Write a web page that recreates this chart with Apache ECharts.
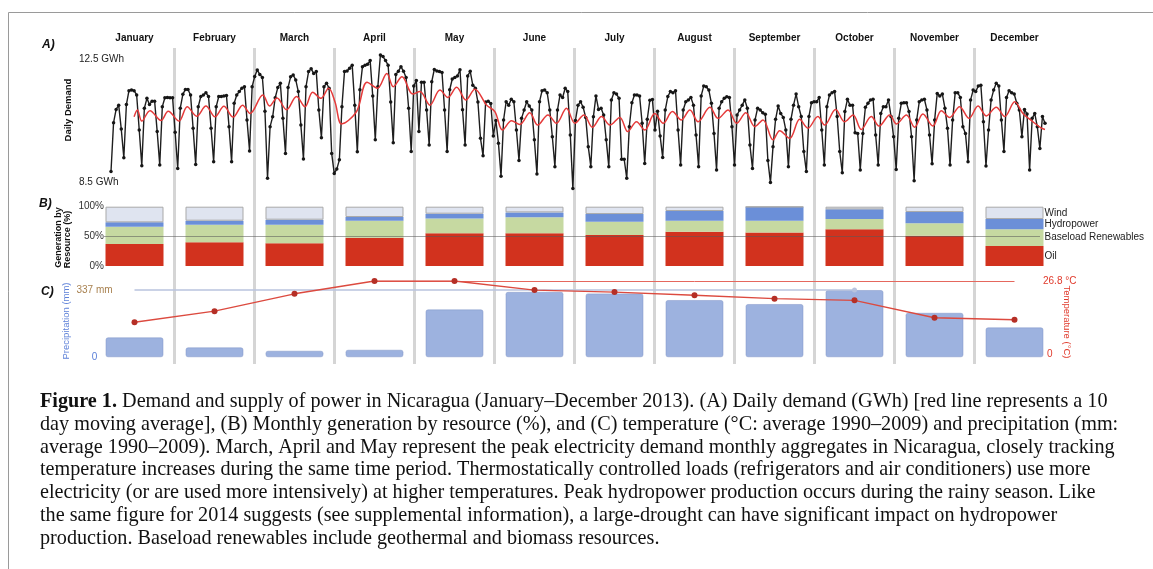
<!DOCTYPE html>
<html><head><meta charset="utf-8">
<script src="https://cdn.jsdelivr.net/npm/echarts@6/dist/echarts.min.js"></script>
<style>html,body{margin:0;padding:0;background:#fff;}#c{width:1153px;height:569px;}</style>
</head><body><div id="c"></div>
<script>
const months = ['January','February','March','April','May','June','July','August','September','October','November','December'];

// Panel A: daily demand (GWh), read per day
const demandJan = [8.84,10.43,10.86,11.0,10.22,9.29,11.02,11.47,11.49,11.47,11.33,10.19,9.03,10.9,11.22,11.02,11.13,11.13,10.14,9.05,10.95,11.24,11.25,11.24,11.24,10.12,8.94,10.9,11.35,11.51,11.51];
const demandFeb = [11.33,10.25,9.07,10.95,11.28,11.33,11.4,11.28,10.25,9.16,10.95,11.28,11.28,11.3,11.31,10.3,9.16,11.06,11.33,11.44,11.55,11.6,10.52,9.51,11.6,11.93,12.14,12.0];
const demandMar = [11.9,10.8,8.62,10.3,10.62,11.24,11.57,11.71,10.57,9.43,11.57,11.92,11.98,11.82,11.44,10.35,9.25,11.6,12.09,12.18,12.03,12.09,10.84,9.94,11.6,11.71,11.55,9.43,8.78,8.92,9.22];
const demandApr = [10.95,12.09,12.11,12.2,12.3,11.0,9.48,11.5,12.25,12.3,12.33,12.45,11.3,9.87,11.6,12.63,12.58,12.45,12.3,11.1,9.78,12.0,12.1,12.25,12.1,11.9,10.9,9.49,11.62,11.8];
const demandMay = [10.14,11.74,11.74,10.84,9.7,11.76,12.16,12.11,12.09,12.06,10.84,9.49,11.5,11.85,11.9,11.95,12.15,10.85,9.7,11.95,12.1,11.65,11.55,11.1,9.92,9.35,11.1,11.13,11.05,10.0,10.5];
const demandJun = [9.76,8.69,10.52,11.11,11.0,11.19,11.11,10.19,9.2,10.57,10.84,11.11,10.97,10.84,9.87,8.76,11.11,11.47,11.49,11.4,10.84,9.97,9.0,10.84,11.33,11.25,11.55,11.44,10.03,8.29];
const demandJul = [10.5,11.0,11.11,10.93,10.6,9.65,9.0,10.62,11.3,10.86,10.9,10.68,9.87,9.0,11.17,11.4,11.36,11.22,9.24,9.24,8.62,10.3,11.08,11.33,11.33,11.3,10.41,9.1,10.54,11.16,11.18];
const demandAug = [10.19,10.8,10.0,9.3,10.84,11.28,11.44,11.4,11.47,10.19,9.05,10.84,11.11,11.17,11.25,11.0,10.03,9.0,11.3,11.62,11.6,11.49,11.06,10.08,8.89,10.9,11.11,11.22,11.27,11.25,10.3];
const demandSep = [9.05,10.68,10.84,11.0,11.17,10.9,9.7,8.94,10.52,10.9,10.84,10.75,10.7,9.2,8.48,9.65,10.54,10.97,10.73,10.6,10.19,9.0,10.54,11.0,11.36,10.95,10.63,9.49,8.84,10.63];
const demandOct = [11.08,11.11,11.11,11.25,10.19,9.05,10.95,11.33,11.4,11.44,10.63,9.49,8.8,10.79,11.19,11.0,11.0,10.1,10.08,8.89,10.08,10.93,11.06,11.17,11.19,10.03,9.05,10.73,10.95,10.95,11.17];
const demandNov = [10.63,9.97,8.91,10.57,11.06,11.08,11.08,10.79,9.97,8.54,10.52,11.11,11.17,11.19,10.84,10.03,9.09,10.52,11.38,11.3,11.36,10.9,10.25,9.05,10.52,11.4,11.4,11.25,10.3,10.08];
const demandDec = [9.16,11.17,11.49,11.44,11.62,11.65,10.46,9.02,10.19,11.17,11.49,11.71,11.62,10.52,9.49,11.25,11.47,11.4,11.36,11.06,10.84,9.97,10.86,10.71,8.89,10.57,10.73,10.3,9.59,10.63,10.41];

// Panel A: 10-day moving average, read at its turning points [day of year, GWh]
const demandMA = [[10,10.62],[11.3,10.84],[13,10.48],[16.2,10.82],[20.5,10.5],[23.3,10.8],[27.5,10.48],[30.7,10.95],[34.4,10.64],[38,10.97],[41.5,10.62],[45,10.96],[48.6,10.61],[52.3,11.0],[55.2,10.73],[60.2,11.33],[62.8,10.97],[65.7,11.23],[69.4,10.85],[73.3,11.28],[76.6,10.95],[79.6,11.42],[82.8,11.22],[85.8,11.55],[88.3,11.1],[90.8,10.39],[93.5,10.5],[97,10.84],[100.8,11.74],[104.8,11.55],[108.5,12.03],[111,11.6],[114.4,11.92],[118.6,11.36],[121.4,11.44],[125.3,11.0],[129.2,11.49],[132.3,11.25],[135.7,11.58],[139.3,11.17],[142.8,11.52],[147.4,11.0],[150.6,10.79],[153.6,10.19],[157.1,10.49],[160.3,10.37],[164.2,10.75],[167.3,10.35],[171.3,10.68],[174.6,10.41],[178.5,10.9],[181.8,10.41],[185.3,10.68],[188.6,10.28],[192.2,10.63],[195.4,10.35],[199.3,10.6],[202.4,10.14],[205.8,10.46],[209,10.19],[212.9,10.73],[216.2,10.41],[219.8,10.79],[223.3,10.52],[226.6,10.84],[229.8,10.46],[234.4,10.93],[237.6,10.57],[241.5,10.84],[244.8,10.41],[248.4,10.75],[251.9,10.3],[255.1,10.52],[259,9.87],[261.6,10.17],[265.5,9.92],[269.4,10.54],[272.6,10.25],[276.5,10.63],[279.1,10.35],[283.4,10.86],[286.9,10.46],[290.2,10.68],[293.4,10.21],[297.3,10.63],[300.3,10.32],[304.5,10.68],[307.1,10.39],[311,10.68],[314.2,10.28],[317.4,10.71],[321.3,10.32],[324.6,10.82],[327.8,10.6],[331.7,10.95],[335.4,10.57],[338.9,10.97],[342.1,10.65],[346,10.93],[349.3,10.63],[353.2,11.11],[356.4,10.73],[360.3,10.46],[363.6,10.25],[365,10.21]];
const demandTicks = [8.5, 12.5];

// Panel B: generation share (%)
const oilPct      = [37.1,39.9,38.2,47.8,55.1,55.1,52.2,57.9,56.7,61.8,51.1,33.7];
const baseloadPct = [29.2,29.8,31.5,28.6,25.2,26.9,22.5,18.5,19.7,17.4,20.8,28.1];
const hydroPct    = [7.3,6.7,8.4,6.2,7.9,8.4,12.9,16.3,23.1,16.3,19.1,17.4];
const windPct     = [26.4,23.6,21.9,17.4,11.8,9.6,12.4,7.3,0.5,4.5,9.0,20.8];

// Panel C
const precipMM = [100,50,33,38,240,328,320,287,267,337,223,150];
const tempC    = [12.3,16.2,22.3,26.8,26.8,23.6,22.9,21.8,20.6,20.0,13.9,13.2];
const precipTicks = [0, 337];
const tempTicks = [0, 26.8];

const daily = [].concat(demandJan,demandFeb,demandMar,demandApr,demandMay,demandJun,demandJul,demandAug,demandSep,demandOct,demandNov,demandDec).map((v,i)=>[i+1,v]);

const SANS = 'Liberation Sans';
const SERIF = 'Liberation Serif';

function lastLabel(arr){
  return arr.map((v,i)=> i===arr.length-1 ? {value:v, label:{show:true}} : v);
}
function genSeries(name, arr, color, extra){
  return Object.assign({
    name, type:'bar', stack:'gen', xAxisIndex:3, yAxisIndex:2,
    barWidth:'72.5%', data: lastLabel(arr),
    itemStyle:{color},
    label:{show:false, position:'right', distance:1, formatter: name, color:'#222', fontSize:10, fontFamily:SANS},
    emphasis:{disabled:true}, silent:true
  }, extra||{});
}

const chart = echarts.init(document.getElementById('c'), null, {renderer:'canvas'});
const caption = [
 '{b|Figure 1.} Demand and supply of power in Nicaragua (January–December 2013). (A) Daily demand (GWh) [red line represents a 10',
 'day moving average], (B) Monthly generation by resource (%), and (C) temperature (°C: average 1990–2009) and precipitation (mm:',
 'average 1990–2009). March, April and May represent the peak electricity demand monthly aggregates in Nicaragua, closely tracking',
 'temperature increases during the same time period. Thermostatically controlled loads (refrigerators and air conditioners) use more',
 'electricity (or are used more intensively) at higher temperatures. Peak hydropower production occurs during the rainy season. Like',
 'the same figure for 2014 suggests (see supplemental information), a large-drought can have significant impact on hydropower',
 'production. Baseload renewables include geothermal and biomass resources.'
];
const CAP_SIZE = 20.2;
const capTexts = caption.map((t,i)=>({
  type:'text', x:40, y:401.7 + i*22.75, silent:true,
  style:{text:t, fill:'#111', fontFamily:SERIF, fontSize:CAP_SIZE, verticalAlign:'middle', align:'left',
    rich:{b:{fontFamily:SERIF, fontSize:CAP_SIZE, fontWeight:'bold', fill:'#111'}}}
}));

const option = {
  animation:false,
  backgroundColor:'#fff',
  textStyle:{fontFamily:SANS},
  grid:[
    {left:111, right:108, top:59, height:123},
    {left:94.5, right:98.5, top:48, bottom:205},
    {left:94.5, right:98.5, top:206.7, height:59.3},
    {left:104, right:113, top:206.7, height:59.3},
    {left:94.5, right:98.5, top:281, bottom:211.7}
  ],
  xAxis:[
    {gridIndex:0, type:'value', min:1, max:365, show:false},
    {gridIndex:1, type:'value', min:0, max:12, interval:1, axisLine:{show:false}, axisTick:{show:false}, axisLabel:{show:false},
      splitLine:{show:true, showMinLine:false, showMaxLine:false, lineStyle:{color:'rgba(195,195,195,0.7)', width:3}}},
    {gridIndex:1, type:'category', data:months, position:'top', axisLine:{show:false}, axisTick:{show:false},
      axisLabel:{margin:5, fontSize:10, fontWeight:'bold', color:'#111', fontFamily:SANS}, splitLine:{show:false}},
    {gridIndex:2, type:'category', data:months, show:false},
    {gridIndex:3, type:'value', min:0, max:1, show:false},
    {gridIndex:4, type:'category', data:months, show:false}
  ],
  yAxis:[
    {gridIndex:0, type:'value', min:8.5, max:12.5, interval:4, axisLine:{show:false}, axisTick:{show:false}, splitLine:{show:false},
      axisLabel:{formatter: v=> v+' GWh', align:'left', margin:32, fontSize:10, color:'#222', fontFamily:SANS}},
    {gridIndex:1, type:'value', show:false},
    {gridIndex:2, type:'value', min:0, max:100, interval:50, offset:-9.5, axisLine:{show:false}, axisTick:{show:false}, splitLine:{show:false},
      axisLabel:{formatter:'{value}%', margin:0, fontSize:10, color:'#333', fontFamily:SANS}},
    {gridIndex:3, type:'value', min:0, max:100, interval:50, z:6, axisLine:{show:false}, axisTick:{show:false}, axisLabel:{show:false},
      splitLine:{show:true, showMinLine:false, showMaxLine:false, lineStyle:{color:'rgba(90,90,90,0.55)', width:1}}},
    {gridIndex:4, type:'value', min:0, max:382, axisLine:{show:false}, axisTick:{show:false}, splitLine:{show:false},
      axisLabel:{customValues:precipTicks, margin:0, align:'center', fontFamily:SANS, fontSize:10,
        formatter: v => v===0 ? '{z|0}' : '{m|'+v+' mm}',
        rich:{z:{color:'#5a7fd8', fontSize:10, fontFamily:SANS}, m:{color:'#a8814f', fontSize:10, fontFamily:SANS}}}},
    {gridIndex:4, type:'value', position:'right', min:0, max:26.8, offset:-11.5, axisLine:{show:false}, axisTick:{show:false}, splitLine:{show:false},
      axisLabel:{customValues:tempTicks, margin:0, align:'left', color:'#e0392b', fontSize:10, fontFamily:SANS,
        formatter: v => v===0 ? '{z|0}' : v+' °C',
        rich:{z:{color:'#e0392b', fontSize:10, fontFamily:SANS, padding:[0,0,6,4]}}}}
  ],
  series:[
    {name:'Daily demand', type:'line', xAxisIndex:0, yAxisIndex:0, data:daily, clip:false,
      symbol:'circle', symbolSize:3.5, itemStyle:{color:'#161616'}, lineStyle:{color:'#1e1e1e', width:1.4}, z:3, silent:true},
    {name:'10 day moving average', type:'line', xAxisIndex:0, yAxisIndex:0, data:demandMA, clip:false, smooth:0.35,
      symbol:'none', lineStyle:{color:'#e53a3a', width:1.5}, z:4, silent:true},
    genSeries('Oil', oilPct, '#d2321e'),
    genSeries('Baseload Renewables', baseloadPct, '#c6d9a1'),
    genSeries('Hydropower', hydroPct, '#6b8fd8'),
    genSeries('Wind', windPct, '#dfe4f0', {itemStyle:{color:'#dfe4f0', borderColor:'#a9a9a9', borderWidth:1}}),
    {name:'Precipitation', type:'bar', xAxisIndex:5, yAxisIndex:4, data:precipMM, barWidth:'72.5%',
      itemStyle:{color:'#9db2df', borderRadius:2, borderColor:'rgba(130,150,200,0.5)', borderWidth:1}, silent:true,
      markLine:{silent:true, symbol:['none','circle'], symbolSize:5, label:{show:false},
        lineStyle:{color:'#b9c3de', width:1.5, type:'solid'}, itemStyle:{color:'#8098cf'},
        data:[[{xAxis:0, yAxis:337}, {xAxis:9, yAxis:337}]]}},
    {name:'Temperature', type:'line', xAxisIndex:5, yAxisIndex:5, data:tempC, z:5,
      symbol:'circle', symbolSize:6, itemStyle:{color:'#b52f26'}, lineStyle:{color:'#dc4a3f', width:1.4}, silent:true,
      markLine:{silent:true, symbol:['none','none'], label:{show:false}, lineStyle:{color:'#e5675d', width:1, type:'solid'},
        data:[[{type:'max'}, {xAxis:11, yAxis:26.8}]]}}
  ],
  graphic:[
    {type:'rect', silent:true, shape:{x:8.5, y:12.5, width:1300, height:700}, style:{fill:'none', stroke:'#9a9a9a', lineWidth:1}},
    {type:'text', x:42, y:45, silent:true, style:{text:'A)', fill:'#111', font:'italic bold 12px "Liberation Sans"', verticalAlign:'middle'}},
    {type:'text', x:39, y:204, silent:true, style:{text:'B)', fill:'#111', font:'italic bold 12px "Liberation Sans"', verticalAlign:'middle'}},
    {type:'text', x:41, y:292, silent:true, style:{text:'C)', fill:'#111', font:'italic bold 12px "Liberation Sans"', verticalAlign:'middle'}},
    {type:'text', x:68, y:110, rotation:Math.PI/2, silent:true, style:{text:'Daily Demand', fill:'#111', font:'bold 9.5px "Liberation Sans"', align:'center', verticalAlign:'middle'}},
    {type:'text', x:58.5, y:237.5, rotation:Math.PI/2, silent:true, style:{text:'Generation by', fill:'#111', font:'bold 9px "Liberation Sans"', align:'center', verticalAlign:'middle'}},
    {type:'text', x:67.5, y:239.5, rotation:Math.PI/2, silent:true, style:{text:'Resource (%)', fill:'#111', font:'bold 9px "Liberation Sans"', align:'center', verticalAlign:'middle'}},
    {type:'text', x:66, y:321, rotation:Math.PI/2, silent:true, style:{text:'Precipitation (mm)', fill:'#5f82d8', font:'9.5px "Liberation Sans"', align:'center', verticalAlign:'middle'}},
    {type:'text', x:1067, y:322, rotation:-Math.PI/2, silent:true, style:{text:'Temperature (°C)', fill:'#e0392b', font:'9.5px "Liberation Sans"', align:'center', verticalAlign:'middle'}}
  ].concat(capTexts)
};
chart.setOption(option);
</script></body></html>
